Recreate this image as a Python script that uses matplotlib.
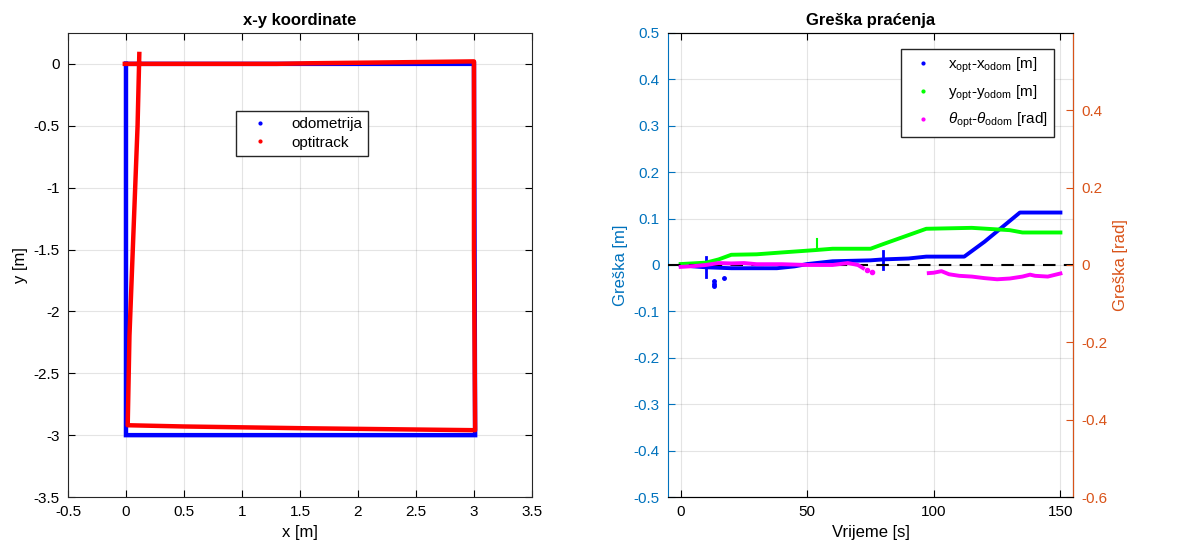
import matplotlib
matplotlib.use('Agg')
import matplotlib.pyplot as plt
from matplotlib.lines import Line2D
from matplotlib.ticker import FuncFormatter
import numpy as np

plt.rcParams['font.family'] = ['Liberation Sans', 'DejaVu Sans']
plt.rcParams['mathtext.fontset'] = 'custom'
plt.rcParams['mathtext.rm'] = 'Liberation Sans'
plt.rcParams['mathtext.it'] = 'Liberation Sans:italic'
plt.rcParams['axes.unicode_minus'] = False

# x-y path (corner points)
odom_x = [0.0, 3.0, 3.01, 0.0, 0.0]
odom_y = [0.0, 0.0, -3.0, -3.0, 0.0]
opt_x = [-0.01, 1.3, 1.6, 2.1, 3.0, 3.0, 3.01, 1.6, 0.5, 0.015, 0.03, 0.1, 0.115]
opt_y = [0.0, 0.0, 0.005, 0.01, 0.02, -1.5, -2.96, -2.945, -2.93, -2.92, -2.2, -0.5, 0.08]

# tracking error vs time
t_x = [0, 5, 10, 20, 30, 38, 45, 50, 60, 75, 80, 90, 97, 112, 120, 134, 150]
e_x = [0.0, -0.003, -0.005, -0.007, -0.007, -0.007, -0.003, 0.002, 0.008, 0.01, 0.012, 0.014, 0.018, 0.018, 0.05, 0.113, 0.113]
t_x_spk = [10, 10, 80, 80]
e_x_spk = [-0.025, 0.018, -0.009, 0.03]
t_x_out = [13, 13, 13, 17]
e_x_out = [-0.045, -0.04, -0.035, -0.028]

t_y = [0, 10, 15, 20, 30, 40, 53, 60, 75, 80, 97, 115, 130, 135, 150]
e_y = [0.002, 0.005, 0.012, 0.022, 0.023, 0.027, 0.032, 0.035, 0.035, 0.045, 0.078, 0.08, 0.075, 0.07, 0.07]
t_y_spk = [54, 54]
e_y_spk = [0.032, 0.055]

t_th1 = [0, 5, 10, 15, 20, 25, 30, 40, 50, 60, 66, 70, 72]
e_th1 = [-0.005, -0.003, 0.0, 0.005, 0.004, 0.005, 0.002, 0.002, 0.0, 0.0, 0.005, 0.0, -0.008]
t_th_gap = [73.5, 75.5]
e_th_gap = [-0.013, -0.018]
t_th2 = [98, 100, 103, 106, 110, 115, 120, 125, 130, 135, 138, 140, 145, 150]
e_th2 = [-0.021, -0.02, -0.016, -0.024, -0.028, -0.03, -0.034, -0.037, -0.035, -0.03, -0.025, -0.028, -0.03, -0.022]

BLUE_AX = (0.0, 0.447, 0.741)
ORANGE_AX = (0.85, 0.325, 0.098)
GRID = (0.15, 0.15, 0.15)
DARK = (0.15, 0.15, 0.15)


def tick_fmt(v, p):
    v = round(v, 6)
    if v == 0:
        return '0'
    return '%g' % v


fmt = FuncFormatter(tick_fmt)

fig = plt.figure(figsize=(12.03, 5.46), dpi=100)

# ---- left: x-y koordinate
ax1 = fig.add_axes([0.0565, 0.0897, 0.3857, 0.85])
ax1.plot(odom_x, odom_y, color='blue', lw=3.2, solid_joinstyle='miter')
ax1.plot(opt_x, opt_y, color='red', lw=3.2)
ax1.set_xlim(-0.5, 3.5)
ax1.set_ylim(-3.5, 0.25)
ax1.set_xticks(np.arange(-0.5, 3.51, 0.5))
ax1.set_yticks(np.arange(-3.5, 0.01, 0.5))
ax1.xaxis.set_major_formatter(fmt)
ax1.yaxis.set_major_formatter(fmt)
ax1.grid(True, color=GRID, alpha=0.12, lw=0.8)
ax1.tick_params(direction='in', top=True, right=True, labelsize=11, length=5, pad=6)
for s in ax1.spines.values():
    s.set_color(DARK)
ax1.set_title('x-y koordinate', fontsize=12, fontweight='bold')
ax1.set_xlabel('x [m]', fontsize=12)
ax1.set_ylabel('y [m]', fontsize=12)
h1 = [Line2D([], [], color='blue', marker='.', ls='none', ms=4),
      Line2D([], [], color='red', marker='.', ls='none', ms=4)]
ax1.legend(h1, ['odometrija', 'optitrack'], loc='upper left', bbox_to_anchor=(0.362, 0.832),
           borderaxespad=0, fontsize=11, fancybox=False, edgecolor=DARK, framealpha=1,
           handlelength=2.3, handletextpad=0.9, borderpad=0.4, labelspacing=0.3)

# ---- right: Greška praćenja
ax2 = fig.add_axes([0.5553, 0.0897, 0.3367, 0.85])
ax2.plot(t_x, e_x, color='blue', lw=2.8)
ax2.plot(t_x_spk[:2], e_x_spk[:2], color='blue', lw=2)
ax2.plot(t_x_spk[2:], e_x_spk[2:], color='blue', lw=2)
ax2.plot(t_x_out, e_x_out, color='blue', ls='none', marker='o', ms=2.5)
ax2.plot(t_y, e_y, color=(0, 1, 0), lw=2.8)
ax2.plot(t_y_spk, e_y_spk, color=(0, 1, 0), lw=1.5)
ax2.axhline(0, color='black', ls='--', lw=1.5, dashes=(6, 4), zorder=5)
ax2.set_xlim(-5, 155)
ax2.set_ylim(-0.5, 0.5)
ax2.set_xticks([0, 50, 100, 150])
ax2.set_yticks(np.arange(-0.5, 0.51, 0.1))
ax2.yaxis.set_major_formatter(fmt)
ax2.grid(True, color=GRID, alpha=0.12, lw=0.8)
ax2.tick_params(axis='x', direction='in', top=True, labelsize=11, length=5, pad=6)
ax2.tick_params(axis='y', direction='in', colors=BLUE_AX, labelsize=11, length=5, pad=6)
ax2.spines['left'].set_color(BLUE_AX)
ax2.spines['top'].set_color(DARK)
ax2.spines['bottom'].set_color(DARK)
ax2.set_title('Greška praćenja', fontsize=12, fontweight='bold')
ax2.set_xlabel('Vrijeme [s]', fontsize=12)
ax2.set_ylabel('Greška [m]', fontsize=12, color=BLUE_AX)

ax3 = ax2.twinx()
ax3.plot(t_th1, e_th1, color=(1, 0, 1), lw=2.8)
ax3.plot(t_th_gap, e_th_gap, color=(1, 0, 1), ls='none', marker='o', ms=3)
ax3.plot(t_th2, e_th2, color=(1, 0, 1), lw=2.8)
ax3.set_ylim(-0.6, 0.6)
ax3.set_yticks([-0.6, -0.4, -0.2, 0, 0.2, 0.4])
ax3.yaxis.set_major_formatter(fmt)
ax3.tick_params(axis='y', direction='in', colors=ORANGE_AX, labelsize=11, length=5, pad=6)
ax3.spines['right'].set_color(ORANGE_AX)
ax3.spines['left'].set_visible(False)
ax3.set_ylabel('Greška [rad]', fontsize=12, color=ORANGE_AX)

h2 = [Line2D([], [], color='blue', marker='.', ls='none', ms=4),
      Line2D([], [], color=(0, 1, 0), marker='.', ls='none', ms=4),
      Line2D([], [], color=(1, 0, 1), marker='.', ls='none', ms=4)]
lab2 = [r'x$_{\rm opt}$-x$_{\rm odom}$ [m]',
        r'y$_{\rm opt}$-y$_{\rm odom}$ [m]',
        r'$\theta_{\rm opt}$-$\theta_{\rm odom}$ [rad]']
ax3.legend(h2, lab2, loc='upper left', bbox_to_anchor=(0.575, 0.966), borderaxespad=0,
           fontsize=11, fancybox=False, edgecolor=DARK, framealpha=1,
           handlelength=2.0, handletextpad=0.6, borderpad=0.45, labelspacing=0.55)

fig.savefig('out.png', dpi=100)
